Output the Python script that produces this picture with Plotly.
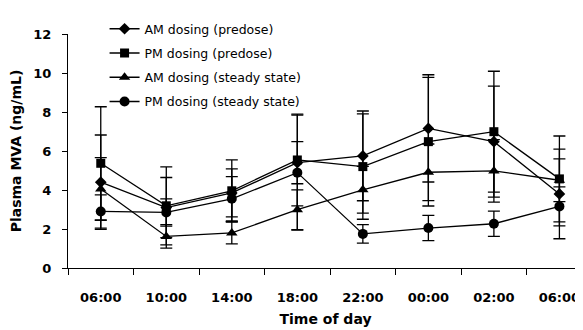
import plotly.graph_objects as go

times = ["06:00", "10:00", "14:00", "18:00", "22:00", "00:00", "02:00", "06:00"]

am_predose = [4.40, 3.10, 3.85, 5.40, 5.75, 7.16, 6.48, 3.80]
am_predose_sd = [2.42, 1.54, 1.23, 1.08, 2.30, 2.75, 2.85, 2.30]

pm_predose = [5.37, 3.19, 3.96, 5.54, 5.20, 6.48, 6.99, 4.57]
pm_predose_sd = [2.90, 2.00, 1.58, 2.35, 2.70, 3.30, 3.10, 2.20]

am_steady = [4.05, 1.62, 1.80, 2.99, 4.01, 4.91, 4.98, 4.50]
am_steady_sd = [1.61, 0.60, 0.56, 1.02, 1.20, 1.45, 1.60, 1.10]

pm_steady = [2.90, 2.85, 3.55, 4.89, 1.75, 2.05, 2.27, 3.16]
pm_steady_sd = [0.85, 0.70, 1.14, 2.95, 0.47, 0.65, 0.65, 1.00]

series = [
    ("AM dosing (predose)", am_predose, am_predose_sd, "diamond", 9),
    ("PM dosing (predose)", pm_predose, pm_predose_sd, "square", 9),
    ("AM dosing (steady state)", am_steady, am_steady_sd, "triangle-up", 10),
    ("PM dosing (steady state)", pm_steady, pm_steady_sd, "circle", 10),
]

xpos = list(range(len(times)))
fig = go.Figure()
for name, vals, sd, sym, size in series:
    fig.add_trace(go.Scatter(
        x=xpos, y=vals, mode="lines+markers", name=name, legendgroup=name,
        line=dict(color="black", width=1.3),
        marker=dict(symbol=sym, size=size, color="black"),
        error_y=dict(type="data", array=sd, visible=True, color="black",
                     thickness=1.3, width=6),
    ))

FAM = "DejaVu Sans, Liberation Sans, Arial, sans-serif"
bold = dict(family=FAM, size=14, color="black", weight="bold")

# page body has an 8px margin, so the figure is sized to fit the window
fig.update_layout(
    width=575, height=322,
    margin=dict(l=60, r=0, t=26, b=62, autoexpand=False),
    paper_bgcolor="white", plot_bgcolor="white",
    font=dict(family=FAM, color="black"),
    showlegend=True,
    legend=dict(x=0.071, y=1.085, xanchor="left", yanchor="top",
                bgcolor="rgba(0,0,0,0)", font=dict(size=12.5, color="black"),
                tracegroupgap=5, traceorder="grouped"),
    xaxis=dict(range=[-0.5, 7.36], tickvals=xpos, ticktext=times, ticks="",
               showline=True, linecolor="black", linewidth=1, showgrid=False,
               zeroline=False, tickfont=dict(family=FAM, size=13, color="black", weight="bold"),
               ticklabelstandoff=17,
               minor=dict(ticks="outside", tick0=-0.5, dtick=1, ticklen=6,
                          tickcolor="black", tickwidth=1, showgrid=False),
               title=dict(text="Time of day", font=bold, standoff=10)),
    yaxis=dict(range=[0, 12], tick0=0, dtick=2, ticks="outside", ticklen=5,
               tickcolor="black", showline=True, linecolor="black", linewidth=1,
               showgrid=False, zeroline=False, ticklabelstandoff=8,
               tickfont=dict(family=FAM, size=13, color="black", weight="bold"),
               title=dict(text="Plasma MVA (ng/mL)", font=bold, standoff=8)),
)

fig.write_html("out.html")
